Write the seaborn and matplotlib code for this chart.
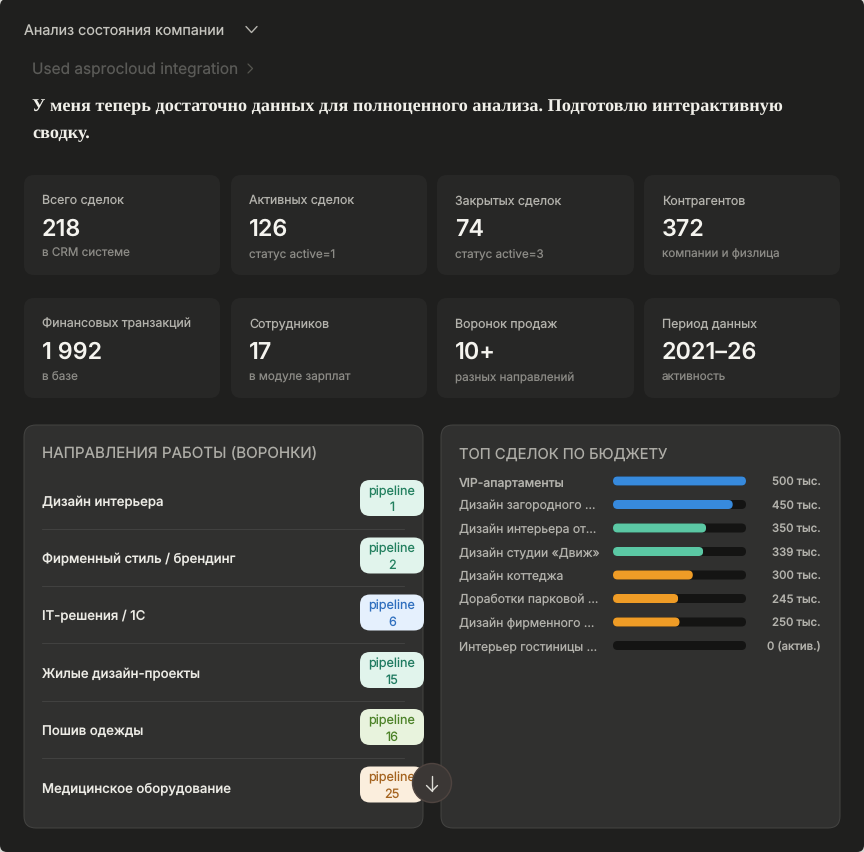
import matplotlib
matplotlib.use('Agg')
import matplotlib.pyplot as plt
import seaborn as sns
import pandas as pd
from matplotlib.patches import FancyBboxPatch, Circle
from matplotlib.transforms import IdentityTransform

stat_labels = ['Всего сделок', 'Активных сделок', 'Закрытых сделок', 'Контрагентов',
               'Финансовых транзакций', 'Сотрудников', 'Воронок продаж', 'Период данных']
stat_values = ['218', '126', '74', '372', '1 992', '17', '10+', '2021–26']
stat_notes = ['в CRM системе', 'статус active=1', 'статус active=3', 'компании и физлица',
              'в базе', 'в модуле зарплат', 'разных направлений', 'активность']

funnel_names = ['Дизайн интерьера', 'Фирменный стиль / брендинг', 'IT-решения / 1С',
                'Жилые дизайн-проекты', 'Пошив одежды', 'Медицинское оборудование']
funnel_ids = ['1', '2', '6', '15', '16', '25']
funnel_bg = ['#e1f4ec', '#e1f4ec', '#e5f0fd', '#e1f4ec', '#e8f3dd', '#fbeedd']
funnel_fg = ['#23805f', '#23805f', '#2f6fbe', '#1f7a60', '#4c8228', '#a4631f']

deal_names = ['VIP-апартаменты', 'Дизайн загородного …', 'Дизайн интерьера от…',
              'Дизайн студии «Движ»', 'Дизайн коттеджа', 'Доработки парковой …',
              'Дизайн фирменного …', 'Интерьер гостиницы …']
deal_budget = [500, 450, 350, 339, 300, 245, 250, 0]
deal_labels = ['500 тыс.', '450 тыс.', '350 тыс.', '339 тыс.', '300 тыс.', '245 тыс.',
               '250 тыс.', '0 (актив.)']
deal_colors = ['#378add', '#378add', '#5bc8a4', '#5bc8a4', '#ef9c26', '#ef9c26', '#ef9c26', '#ef9c26']

sns.set_theme(style='dark')
plt.rcParams['font.family'] = ['Inter', 'DejaVu Sans']
plt.rcParams['text.hinting'] = 'no_hinting'
W, H = 864, 853

fig = plt.figure(figsize=(W / 100, H / 100), dpi=100, facecolor='#d8d8d4')
# whole figure in pixels, y going down
ui = fig.add_axes([0, 0, 1, 1])
ui.set_xlim(0, W)
ui.set_ylim(H, 0)
ui.axis('off')
ui.set_zorder(1)


def box(x0, y0, x1, y1, fc, ec='none', r=10, lw=1.0, z=1):
    p = FancyBboxPatch((x0 + r, y0 + r), x1 - x0 - 2 * r, y1 - y0 - 2 * r,
                       boxstyle=f'round,pad={r},rounding_size={r}',
                       fc=fc, ec=ec, lw=lw, zorder=z)
    ui.add_patch(p)


box(0, 0, W, H, '#1f1f1e', r=7, z=0)

# header
ui.text(24, 31, 'Анализ состояния компании', color='#c4c3bd', fontsize=10.3, va='center')
ui.plot([246, 251.5, 257], [27.5, 33.5, 27.5], color='#b5b4ae', lw=1.0)
ui.text(32, 70.5, 'Used asprocloud integration', color='#5a5a57', fontsize=11.1, va='center')
ui.plot([248, 252.5, 248], [65, 69.5, 74], color='#55554f', lw=0.9)
ui.text(32, 107, 'У меня теперь достаточно данных для полноценного анализа. Подготовлю интерактивную',
        color='#f0efe9', fontsize=13.15, family='Liberation Serif', weight='bold', va='center')
ui.text(32, 134, 'сводку.', color='#f0efe9', fontsize=13.15, family='Liberation Serif',
        weight='bold', va='center')

# stat cards
card_x = [(24, 220), (231, 427), (437, 634), (644, 840)]
card_y = [176, 299]
for i, lab in enumerate(stat_labels):
    x0, x1 = card_x[i % 4]
    y0 = card_y[i // 4]
    box(x0, y0, x1, y0 + 100, '#272726')
    ui.text(x0 + 18, y0 + 25, lab, color='#b3b2ac', fontsize=8.9, va='center')
    ui.text(x0 + 18, y0 + 53.5, stat_values[i], color='#f5f4ef', fontsize=16.8, weight='semibold', va='center')
    ui.text(x0 + 18, y0 + 78, stat_notes[i], color='#8c8b86', fontsize=8.4, va='center')

# panels
box(24, 426, 423, 829, '#30302f', ec='#454543', r=12, lw=0.7)
box(441, 426, 840, 829, '#30302f', ec='#454543', r=12, lw=0.7)
ui.text(42, 455, 'НАПРАВЛЕНИЯ РАБОТЫ (ВОРОНКИ)', color='#aeada7', fontsize=10.9, va='center')
ui.text(459, 455, 'ТОП СДЕЛОК ПО БЮДЖЕТУ', color='#aeada7', fontsize=10.6, va='center')

# funnels list
row_y = [499, 556.5, 613.5, 671, 728, 785.5]
for i, name in enumerate(funnel_names):
    y = row_y[i]
    ui.text(42, y + 3, name, color='#ecebe5', fontsize=9.5, weight='medium', va='center')
    box(360, y - 18, 424, y + 18, funnel_bg[i], r=10, z=2)
    ui.text(392, y - 7.5, 'pipeline', color=funnel_fg[i], fontsize=9.1, ha='center', va='center', zorder=3)
    ui.text(392, y + 9, funnel_ids[i], color=funnel_fg[i], fontsize=9.1, ha='center', va='center', zorder=3)
    if i < 5:
        ui.plot([42, 404], [y + 30.5, y + 30.5], color='#414140', lw=0.8, zorder=1.5)

# scroll button
ui.add_patch(Circle((432, 784), 19.5, fc='#3b3735', ec='#4f4440', lw=1.0, zorder=4))
ui.plot([432, 432], [777, 792], color='#dddcd6', lw=1.0, zorder=5)
ui.plot([426.5, 432, 437.5], [786.5, 792, 786.5], color='#dddcd6', lw=1.0, zorder=5)

# budget bars
df = pd.DataFrame({'deal': deal_names, 'budget': deal_budget, 'track': [max(deal_budget)] * len(deal_budget)})
ax = fig.add_axes([613 / W, 1 - 658.25 / H, 133 / W, 188 / H])
ax.set_zorder(2)
ax.patch.set_alpha(0)
sns.barplot(data=df, x='track', y='deal', color='#141413', width=0.383, saturation=1, linewidth=0, ax=ax)
sns.barplot(data=df, x='budget', y='deal', hue='deal', palette=deal_colors, width=0.383,
            saturation=1, dodge=False, legend=False, linewidth=0, ax=ax)
ax.set_xlim(0, 500)
ax.set_ylim(len(deal_names) - 0.5, -0.5)
ax.axis('off')

# round the ends of the bars
fig.canvas.draw()
for bar in ax.patches:
    b = bar.get_window_extent()
    if b.width < 1:
        continue
    r = b.height / 2
    clip = FancyBboxPatch((b.x0 + r, b.y0 + r), max(b.width - 2 * r, 0.01), 0.01,
                          boxstyle=f'round,pad={r},rounding_size={r}',
                          transform=IdentityTransform())
    bar.set_clip_path(clip)

for i, name in enumerate(deal_names):
    y = 481.5 + i * 23.5
    ui.text(459, y + 1.5, name, color='#b3b2ac', fontsize=8.75, weight='medium' if i == 0 else 'normal', va='center')
    ui.text(821, y + 0.5, deal_labels[i], color='#b3b2ac', fontsize=8.2, weight='medium', ha='right', va='center')

plt.savefig('out.png', dpi=100, facecolor=fig.get_facecolor())
